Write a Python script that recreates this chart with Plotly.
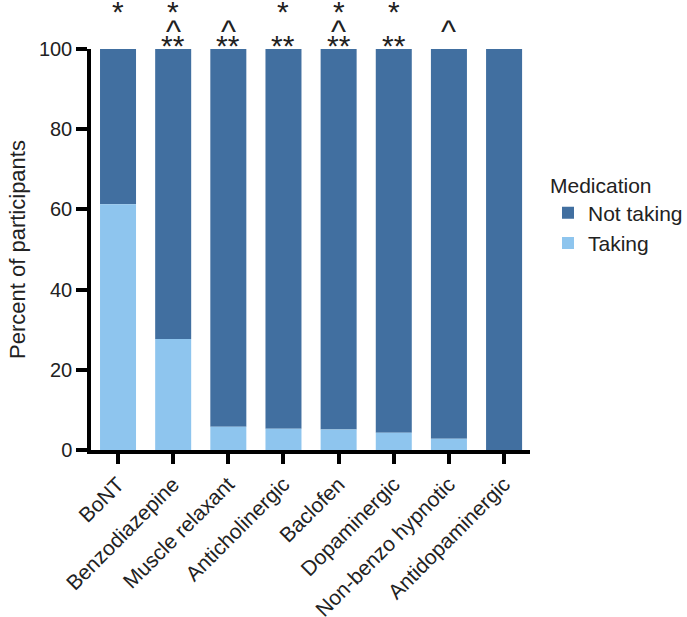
import plotly.graph_objects as go

categories = ["BoNT", "Benzodiazepine", "Muscle relaxant", "Anticholinergic",
              "Baclofen", "Dopaminergic", "Non-benzo hypnotic", "Antidopaminergic"]
taking = [61.3, 27.7, 5.8, 5.3, 5.1, 4.3, 2.8, 0.0]
not_taking = [round(100 - v, 1) for v in taking]
sig_star = ["*", "*", "", "*", "*", "*", "", ""]
sig_caret = ["", "^", "^", "", "^", "", "^", ""]
sig_dstar = ["", "**", "**", "**", "**", "**", "", ""]

dark = "#416fa0"
light = "#8ec5ee"
font = "Liberation Sans, Arial, sans-serif"
txt = "#222222"

fig = go.Figure()
fig.add_trace(go.Bar(x=categories, y=not_taking, base=taking, name="Not taking",
                     marker=dict(color=dark, line=dict(width=0)), width=0.653))
fig.add_trace(go.Bar(x=categories, y=taking, name="Taking",
                     marker=dict(color=light, line=dict(width=0)), width=0.653))

for i, c in enumerate(categories):
    if sig_star[i]:
        fig.add_annotation(x=c, y=100, yref="y", yanchor="middle", yshift=38,
                           text=sig_star[i], showarrow=False,
                           font=dict(family=font, size=30, color=txt))
    if sig_caret[i]:
        fig.add_annotation(x=c, y=100, yref="y", yanchor="middle", yshift=18,
                           text=sig_caret[i], showarrow=False,
                           font=dict(family=font, size=32, color=txt))
    if sig_dstar[i]:
        fig.add_annotation(x=c, y=100, yref="y", yanchor="middle", yshift=4,
                           text=sig_dstar[i], showarrow=False,
                           font=dict(family=font, size=30, color=txt))

fig.update_layout(
    barmode="overlay",
    width=687, height=617,
    margin=dict(l=91, r=157, t=49, b=167, autoexpand=False),
    plot_bgcolor="white", paper_bgcolor="white",
    font=dict(family=font, size=21, color=txt),
    legend=dict(title=dict(text="Medication", font=dict(size=21)),
                font=dict(size=21), x=1.041, y=0.71, xanchor="left", yanchor="top",
                traceorder="normal", tracegroupgap=0),
    xaxis=dict(range=[-0.49, 7.47], showline=True, linecolor="black", linewidth=3.5,
               ticks="outside", ticklen=10, tickwidth=3.5, tickcolor="black",
               tickangle=-45, tickfont=dict(size=21), showgrid=False, zeroline=False,
               automargin=False),
    yaxis=dict(range=[0, 100], showline=True, linecolor="black", linewidth=3.5,
               ticks="outside", ticklen=11, tickwidth=3.5, tickcolor="black",
               tickvals=[0, 20, 40, 60, 80, 100], tickfont=dict(size=20),
               showgrid=False, zeroline=False, automargin=False,
               title=dict(text="Percent of participants", font=dict(size=22), standoff=8)),
    showlegend=True,
)

fig.write_html("out.html", config={"displayModeBar": False},
               post_script="document.body.style.margin='0';")
